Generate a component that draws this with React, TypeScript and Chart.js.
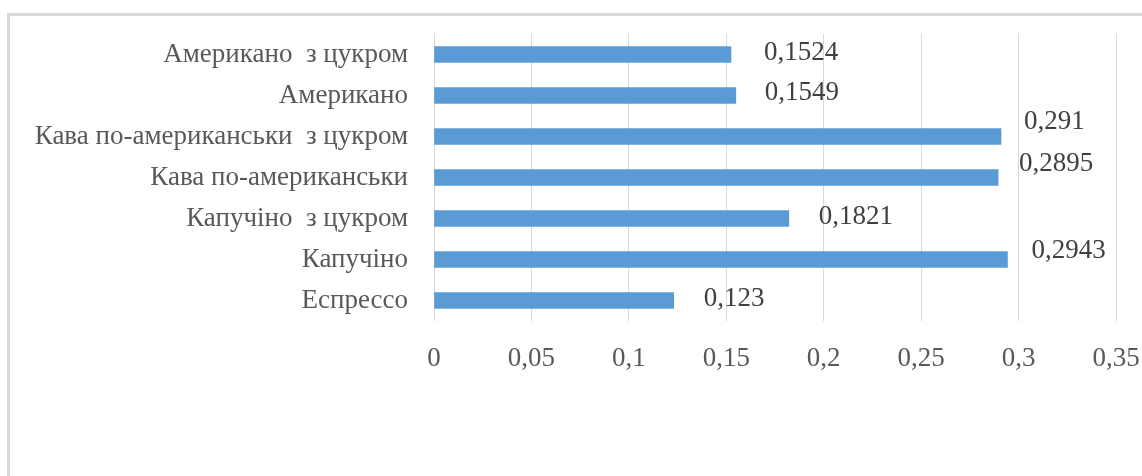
import React, { useEffect, useRef } from "react";
import { Chart, registerables } from "chart.js";

Chart.register(...registerables);

const categories = [
  "Американо  з цукром",
  "Американо",
  "Кава по-американськи  з цукром",
  "Кава по-американськи",
  "Капучіно  з цукром",
  "Капучіно",
  "Еспрессо",
];
const values = [0.1524, 0.1549, 0.291, 0.2895, 0.1821, 0.2943, 0.123];
const valueLabels = ["0,1524", "0,1549", "0,291", "0,2895", "0,1821", "0,2943", "0,123"];
const labelDx = [33, 29, 23, 21, 30, 24, 30];
const labelDy = [-2, -3, -15, -14, -2, -9, -2];

const FONT = "'Liberation Serif', 'Times New Roman', serif";

export default function App() {
  const ref = useRef<HTMLCanvasElement | null>(null);
  useEffect(() => {
    if (!ref.current) return;
    const framePlugin = {
      id: "frame",
      beforeDraw(chart: any) {
        const ctx = chart.ctx;
        ctx.save();
        ctx.fillStyle = "#ffffff";
        ctx.fillRect(0, 0, chart.width, chart.height);
        ctx.fillStyle = "#d9d9d9";
        ctx.fillRect(7, 13, chart.width, 3);
        ctx.fillRect(7, 13, 3, chart.height);
        ctx.restore();
      },
    };
    const labelPlugin = {
      id: "valueLabels",
      afterDatasetsDraw(chart: any) {
        const ctx = chart.ctx;
        const meta = chart.getDatasetMeta(0);
        ctx.save();
        ctx.font = `27px ${FONT}`;
        ctx.fillStyle = "#404040";
        ctx.textAlign = "left";
        ctx.textBaseline = "middle";
        meta.data.forEach((el: any, i: number) => {
          ctx.fillText(valueLabels[i], el.x + labelDx[i], el.y + labelDy[i]);
        });
        ctx.restore();
      },
    };
    const chart = new Chart(ref.current, {
      type: "bar",
      data: {
        labels: categories,
        datasets: [
          {
            data: values,
            backgroundColor: "#5b9bd5",
            borderWidth: 0,
            barThickness: 16,
          },
        ],
      },
      options: {
        indexAxis: "y",
        animation: false,
        responsive: false,
        maintainAspectRatio: false,
        layout: { padding: { top: 34, right: 26, bottom: 93, left: 0 } },
        plugins: {
          legend: { display: false },
          tooltip: { enabled: false },
          title: { display: false },
        },
        scales: {
          x: {
            min: 0,
            max: 0.35,
            border: { display: false },
            grid: { color: "#d9d9d9", lineWidth: 1, drawTicks: false },
            ticks: {
              stepSize: 0.05,
              padding: 22,
              color: "#595959",
              font: { family: FONT, size: 27 },
              callback: (v: any) => String(Math.round(Number(v) * 100) / 100).replace(".", ","),
            },
            afterFit: (scale: any) => {
              scale.height = 62;
              scale.paddingLeft = 0;
              scale.paddingRight = 0;
            },
          },
          y: {
            border: { display: false },
            grid: { display: false, drawTicks: false },
            ticks: {
              padding: 26,
              color: "#595959",
              font: { family: FONT, size: 27 },
            },
            afterFit: (scale: any) => {
              scale.width = 434;
              scale.paddingTop = 0;
              scale.paddingBottom = 0;
            },
          },
        },
      },
      plugins: [framePlugin, labelPlugin],
    } as any);
    return () => chart.destroy();
  }, []);
  return (
    <div style={{ position: "fixed", left: 0, top: 0, width: 1142, height: 476, overflow: "hidden", background: "#fff" }}>
      <canvas ref={ref} width={1142} height={476} style={{ display: "block", width: 1142, height: 476 }} />
    </div>
  );
}
